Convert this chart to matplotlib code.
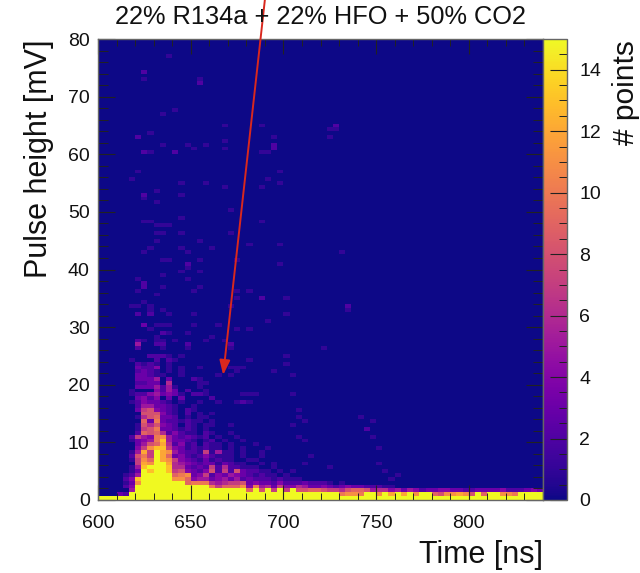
import numpy as np
import matplotlib
matplotlib.use("Agg")
from matplotlib import pyplot as plt
from matplotlib.ticker import MultipleLocator

plt.rcParams["font.family"] = ["Liberation Sans", "DejaVu Sans"]

title = "22% R134a + 22% HFO + 50% CO2"
x_label = "Time [ns]"
y_label = "Pulse height [mV]"
z_label = "# points"
x_ticks = [600, 650, 700, 750, 800]
y_ticks = [0, 10, 20, 30, 40, 50, 60, 70, 80]
z_ticks = [0, 2, 4, 6, 8, 10, 12, 14]

n_time_bins = 72
n_height_bins = 120
time_range = (600, 840)
height_range = (0, 80)
z_max = 15

# dense bottom of the histogram, one string per row starting from 0 mV
# each char is the count in that bin (hex, f = 15 or more), short rows are padded with zeros
dense_rows = [
    "f" * 72,
    "...32" + "f" * 34 + "abbaffbfcfcfbff98bbcb8f9ffbbaffff",
    ".....5" + "f" * 18 + "9f8f7f7f" + "88998776899856645354233443322333342223433",
    "....24" + "f" * 12 + "a7999b4a5637446533432343322211",
    "....13b" + "f" * 7 + "9aaa65677834332422232221.1",
    "....24d" + "f" * 5 + "bb9455345352322212111",
    "....125" + "f" * 5 + "9ab34724354321211.1",
    ".....13fdffd7843248272832211.1.1",
    ".....15dfffd66323272622111..1",
    "......7cbffc65432331321" + "1..1.1",
    ".....17b9fcb7432131211..11",
    ".....28a7fc93421242111.1..1",
    ".....15c7fcb5322171511.1..1",
    "......47bdd74312121" + "1.1.1...1",
    "......3589c62412.211.1...1",
    ".....1345ad53321.12.1..1",
    ".....2754ab5323212.1..1",
    "......2989624211.21..1",
    "......178a332121.1",
    "......1868432.21.11..1",
    ".......93a3221211.1",
    "......1689332.1.11",
    ".......888421.2.1.1",
    "......3784321.21",
    "......2553321..1",
    ".....1243321.1..1",
    "......3424.3.3",
    ".....122453431.221",
    ".....1...4253.2..1",
    "......3335251",
    "......2233.6....1",
    "......3335.3...2",
    "......33211..1",
    "......2321.1.1",
    "......3224.1.1",
    "......2121.1",
    ".....1...2.21",
    "........2221.1",
]

# isolated bins higher up and to the right
sparse_time = [
    638.9, 624.5, 624.5, 655.9, 655.9, 641.9, 635.0, 669.8, 686.9, 621.2, 628.1, 728.4, 725.2, 728.4, 725.2,
    693.7, 635.0, 648.7, 659.0, 669.8, 669.8, 693.7, 693.7, 624.5, 628.1, 641.9, 652.3, 686.9, 690.1,
    697.3, 621.2, 617.6, 690.1, 645.5, 659.0, 697.3, 669.8, 686.9, 631.3, 624.5, 645.5, 624.5,
    631.3, 673.0, 645.5, 624.5, 628.1, 686.9, 631.7, 635.0, 638.9, 635.0, 631.7, 645.5, 673.0, 631.7, 655.9,
    683.3, 697.3, 645.5, 628.1, 624.5, 648.7, 662.6, 731.8, 635.0, 638.9, 655.9, 676.6, 648.7, 648.7, 697.3,
    645.5, 655.9, 635.0, 621.2, 648.7, 624.5, 624.5, 635.0, 655.9, 652.3, 621.2, 676.6, 683.3, 631.3, 676.6,
    686.9, 700.9, 624.5, 617.6, 621.2, 628.1, 673.0, 628.1, 635.0, 735.4, 735.4, 621.2, 628.1, 638.9, 652.3,
    700.9, 690.1, 624.5, 631.7, 635.0, 638.9, 652.3, 665.8, 628.1, 676.6, 680.2, 635.0, 638.9, 648.7, 662.6,
    631.7, 659.0, 621.2, 624.5, 631.7, 635.0, 641.9, 669.8, 621.2, 631.7, 635.0, 648.7, 673.0, 621.2, 635.0,
    648.7, 673.0, 721.6,
    700.8, 682.9, 700.8, 655.9, 673.0, 676.6, 679.8, 676.6, 693.7, 666.1, 673.0, 704.4, 655.9, 659.0, 655.9,
    679.0, 682.0, 685.0, 704.4, 660.4, 663.1, 655.9, 666.1, 676.6, 682.9, 679.8,
    707.2, 707.2, 710.8, 705.4, 707.2, 710.8, 714.4, 710.8, 725.2, 742.2, 749.4, 745.8, 749.4, 752.1, 752.1,
    755.7, 762.9, 759.3,
]
sparse_height = [
    77.0, 74.0, 73.3, 73.3, 72.0, 67.9, 67.1, 65.0, 65.0, 63.2, 63.6, 64.9, 64.2, 64.2, 63.0,
    63.0, 61.5, 61.5, 61.5, 62.2, 60.8, 61.5, 60.8, 60.3, 60.0, 60.0, 60.8, 60.0, 60.0,
    57.3, 57.3, 55.8, 55.8, 55.1, 55.1, 55.1, 54.4, 54.4, 53.8, 53.1, 53.1, 52.4,
    51.7, 50.2, 48.8, 48.1, 48.1, 48.1, 47.4, 47.4, 47.4, 46.0, 46.0, 46.0, 46.0, 45.1, 45.3,
    44.6, 44.6, 43.9, 43.9, 43.3, 43.3, 43.9, 43.3, 41.8, 41.8, 41.8, 41.8, 41.1, 40.4, 41.1,
    39.7, 39.7, 39.0, 38.4, 38.4, 37.6, 36.9, 36.9, 36.9, 36.2, 36.2, 36.2, 36.2, 35.5, 34.8,
    34.8, 34.8, 34.1, 33.4, 33.4, 33.4, 33.4, 32.8, 32.8, 33.4, 32.8, 32.0, 32.0, 32.0, 32.0,
    32.0, 31.3, 30.5, 30.5, 30.5, 30.5, 30.5, 30.5, 29.9, 29.9, 29.9, 29.2, 29.2, 29.2, 28.5,
    28.5, 27.8, 27.8, 27.8, 27.8, 27.8, 27.8, 27.8, 27.1, 27.1, 27.1, 27.1, 27.1, 26.3, 26.3,
    26.3, 26.3, 26.3,
    25.0, 24.3, 23.7, 23.0, 23.0, 23.0, 23.0, 22.3, 22.3, 21.6, 21.6, 21.6, 20.8, 20.1, 19.4,
    18.6, 18.6, 18.6, 18.6, 17.9, 17.9, 17.2, 17.2, 17.2, 17.2, 16.7,
    15.9, 14.5, 13.9, 13.2, 11.0, 10.1, 7.5, 6.6, 5.8, 14.6, 13.9, 12.4, 11.0, 8.8, 6.6,
    5.2, 4.6, 3.9,
]
sparse_count = [
    1, 2, 1, 1, 2, 1, 1, 1, 1, 2, 1, 2, 1, 1, 1,
    1, 1, 1, 1, 1, 1, 2, 2, 2, 1, 2, 1, 1, 1,
    1, 1, 1, 1, 1, 1, 1, 1, 1, 1, 2, 1, 1,
    1, 1, 1, 1, 1, 1, 1, 1, 1, 1, 1, 1, 1, 1, 1,
    1, 1, 1, 1, 1, 1, 1, 1, 1, 1, 1, 1, 2, 1, 1,
    1, 1, 1, 1, 1, 2, 2, 1, 1, 1, 1, 1, 1, 1, 1,
    2, 1, 1, 1, 1, 1, 1, 1, 1, 2, 1, 2, 2, 1, 1,
    1, 1, 3, 1, 1, 1, 1, 1, 1, 1, 1, 2, 1, 1, 1,
    1, 1, 2, 1, 1, 1, 1, 1, 5, 2, 2, 2, 2, 2, 1,
    1, 1, 1,
    1, 1, 1, 1, 1, 1, 1, 1, 1, 1, 1, 1, 1, 1, 1,
    1, 1, 1, 1, 1, 1, 1, 1, 1, 1, 2,
    1, 1, 1, 1, 1, 1, 1, 1, 1, 1, 1, 2, 1, 1, 1,
    1, 1, 1,
]

# build the histogram
time_edges = np.linspace(*time_range, n_time_bins + 1)
height_edges = np.linspace(*height_range, n_height_bins + 1)
sparse_hist, _, _ = np.histogram2d(sparse_time, sparse_height, bins=[time_edges, height_edges], weights=sparse_count)
counts = sparse_hist.T
for r, row in enumerate(dense_rows):
    for c, ch in enumerate(row[:n_time_bins]):
        if ch != ".":
            counts[r, c] = max(counts[r, c], int(ch, 16))

fig = plt.figure(figsize=(6.4, 5.73), dpi=100)
ax = fig.add_axes([98 / 640, 73 / 573, 445 / 640, 461 / 573])
cax = fig.add_axes([543 / 640, 73 / 573, 24 / 640, 461 / 573])

mesh = ax.pcolormesh(time_edges, height_edges, np.clip(counts, 0, z_max), cmap="plasma", vmin=0, vmax=z_max)

ax.set_xlim(*time_range)
ax.set_ylim(*height_range)
ax.set_xticks(x_ticks)
ax.set_yticks(y_ticks)
ax.xaxis.set_minor_locator(MultipleLocator(10))
ax.yaxis.set_minor_locator(MultipleLocator(2))
ax.tick_params(axis="x", which="major", direction="in", top=True, length=10.5, width=0.8, color="#222222",
               labelsize=14, labelcolor="#111111", pad=11)
ax.tick_params(axis="x", which="minor", direction="in", top=True, length=5, width=0.7, color="#222222")
ax.tick_params(axis="y", which="major", direction="in", right=True, length=12.5, width=0.8, color="#222222",
               labelsize=14, labelcolor="#111111", pad=6)
ax.tick_params(axis="y", which="minor", direction="in", right=True, length=7, width=0.7, color="#222222")

cbar = fig.colorbar(mesh, cax=cax)
cbar.set_ticks(z_ticks)
cbar.ax.yaxis.set_minor_locator(MultipleLocator(0.5))
cbar.ax.tick_params(which="major", direction="in", length=12, width=0.8, color="#222222",
                    labelsize=14, labelcolor="#111111", pad=9)
cbar.ax.tick_params(which="minor", direction="in", length=6, width=0.7, color="#222222")

for a in (ax, cax):
    for spine in a.spines.values():
        spine.set_color("#666666")
        spine.set_linewidth(1.0)

fig.text(320.5 / 640, 1 - 17 / 573, title, ha="center", va="center", fontsize=18.3, color="#111111")
fig.text(543 / 640, 1 - 555 / 573, x_label, ha="right", va="center", fontsize=22, color="#111111")
fig.text(39 / 640, 1 - 159 / 573, y_label, rotation=90, ha="center", va="center", fontsize=22, color="#111111")
fig.text(626 / 640, 1 - 93 / 573, z_label, rotation=90, ha="center", va="center", fontsize=21.5, color="#111111")

# red arrow comes in from above the frame
ax.annotate("", xy=(667.5, 21.7), xytext=(690, 86.8), annotation_clip=False,
            arrowprops=dict(arrowstyle="-|>,head_length=0.55,head_width=0.2", color="#d9281e", lw=1.4,
                            mutation_scale=16, shrinkA=0, shrinkB=0))

fig.savefig("out.png", dpi=100)
